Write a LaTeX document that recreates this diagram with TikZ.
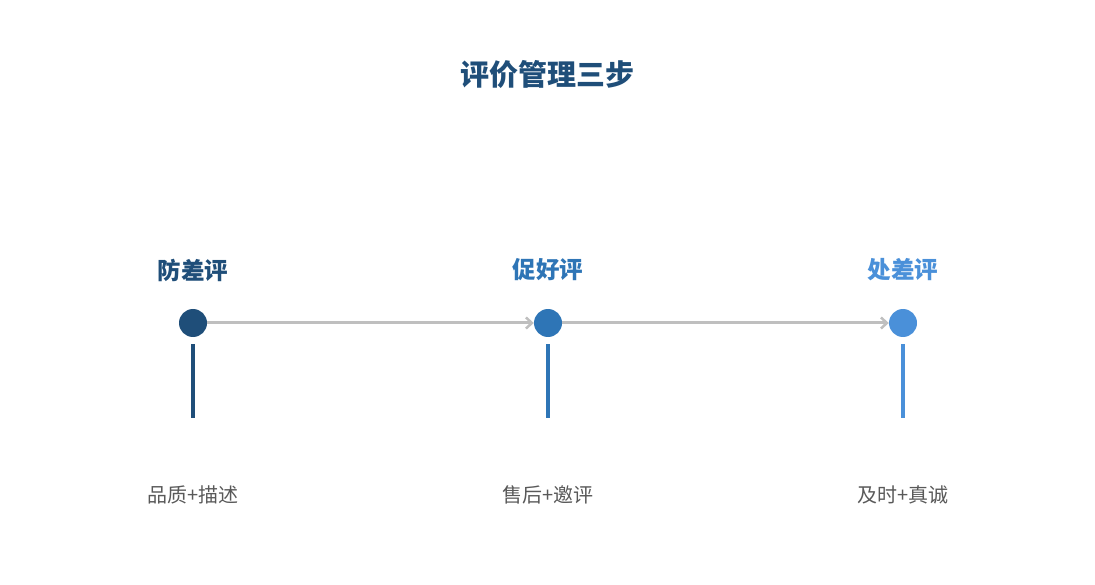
\documentclass[tikz,border=0pt]{standalone}
\usepackage{fontspec}
\usepackage{xcolor}
\usetikzlibrary{arrows.meta}
\newfontfamily\cjk{Noto Sans CJK SC}
\definecolor{darkblue}{HTML}{1F4E79}
\definecolor{midblue}{HTML}{2E75B6}
\definecolor{lightblue}{HTML}{4A90D9}
\definecolor{linegray}{HTML}{BFBFBF}
\definecolor{textgray}{HTML}{595959}
\tikzstyle{step dot}=[
        circle,
        inner sep = 0pt,
        minimum size = 28pt
    ]
\tikzstyle{step head}=[
        font = \cjk\bfseries\fontsize{23.5}{27}\selectfont
    ]
\tikzstyle{step note}=[
        text = textgray,
        font = \cjk\fontsize{20}{24}\selectfont
    ]

\begin{document}
\begin{tikzpicture}[x=1pt, y=-1pt, node distance={355pt},
        flow/.style = {draw = linegray, line width = 3pt, -{Straight Barb[length=6pt, width=11pt, line width=2.5pt]}},
        stem/.style = {line width = 4pt}]
        \useasboundingbox (0,0) rectangle (1095,585);
        \node[font = \cjk\bfseries\fontsize{29}{33}\selectfont, text = darkblue] (title) at (547,74) {评价管理三步};

        \node[step dot, fill = darkblue] (A) at (193,323) {};
        \node[step dot, fill = midblue] (B) [right of = A] {};
        \node[step dot, fill = lightblue] (C) [right of = B] {};

        \node[step head, text = darkblue] (hA) [above of = A, node distance = 53pt] {防差评};
        \node[step head, text = midblue] (hB) [above of = B, node distance = 53pt] {促好评};
        \node[step head, text = lightblue] (hC) [above of = C, node distance = 53pt] {处差评};

        \node[step note] (nA) [below of = A, node distance = 172pt] {品质+描述};
        \node[step note] (nB) [below of = B, node distance = 172pt] {售后+邀评};
        \node[step note] (nC) [below of = C, node distance = 172pt] {及时+真诚};

        \coordinate (tA) at (193,344); \coordinate (bA) at (193,418);
        \coordinate (tB) at (548,344); \coordinate (bB) at (548,418);
        \coordinate (tC) at (903,344); \coordinate (bC) at (903,418);

        \draw[flow] (A) -- (B);
        \draw[flow] (B) -- (C);
        \draw[stem, darkblue] (tA) -- (bA);
        \draw[stem, midblue] (tB) -- (bB);
        \draw[stem, lightblue] (tC) -- (bC);
    \end{tikzpicture}
\end{document}
